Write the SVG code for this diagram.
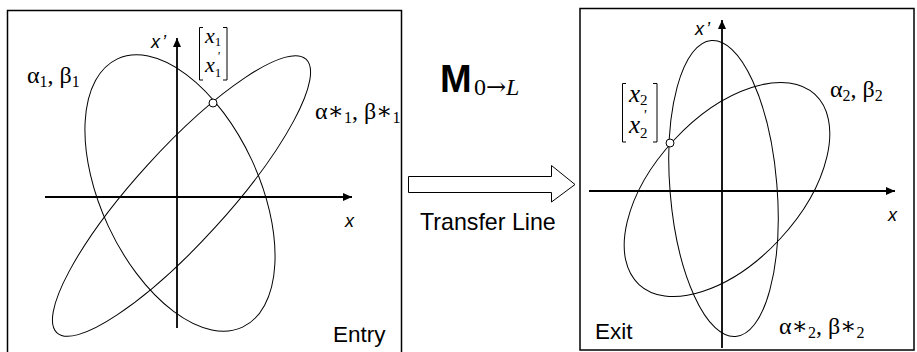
<svg xmlns="http://www.w3.org/2000/svg" width="917" height="352" viewBox="0 0 917 352">
<style>
.frame{fill:none;stroke:#000;stroke-width:1.5}
.ell{fill:none;stroke:#000;stroke-width:1}
.axis{fill:none;stroke:#000;stroke-width:1.8}
.pt{fill:#fff;stroke:#000;stroke-width:1}
.sans{font-family:"Liberation Sans",Arial,sans-serif;fill:#000}
.ax{font-family:"Liberation Sans",Arial,sans-serif;font-style:italic;font-size:18px;fill:#000}
.ser{font-family:"Liberation Serif","DejaVu Serif",serif;font-size:24px;fill:#000}
.sub{font-size:16px}
.mx{font-family:"Liberation Serif","DejaVu Serif",serif;font-style:italic;fill:#000}
.br{fill:none;stroke:#000;stroke-width:1}
</style>
<defs>
<marker id="ah" markerUnits="userSpaceOnUse" markerWidth="10" markerHeight="8" refX="9" refY="4" orient="auto">
<path d="M0,0 L9,4 L0,8 Z" fill="#000"/>
</marker>
</defs>
<g id="entry">
<path class="frame" d="M7.5,353 V10.5 H401.5 V353"/>
<line class="axis" x1="45" y1="197" x2="352" y2="197" marker-end="url(#ah)"/>
<line class="axis" x1="177" y1="328" x2="177" y2="38" marker-end="url(#ah)"/>
<ellipse class="ell" cx="180" cy="193" rx="148" ry="79" transform="rotate(65 180 193)"/>
<ellipse class="ell" cx="181.5" cy="196" rx="185" ry="46" transform="rotate(-47.7 181.5 196)"/>
<circle class="pt" cx="213" cy="103" r="4"/>
<text class="ax" x="151" y="48">x<tspan dx="2">’</tspan></text>
<text class="ax" x="345" y="227">x</text>
<text class="ser" x="27" y="83">α<tspan class="sub" dy="4">1</tspan><tspan dy="-4">, β</tspan><tspan class="sub" dy="4">1</tspan></text>
<text class="ser" x="315" y="119">α∗<tspan class="sub" dy="4">1</tspan><tspan dy="-4">, β∗</tspan><tspan class="sub" dy="4">1</tspan></text>
<path class="br" d="M203,27.5 H199.5 V80 H203 M223,27.5 H227 V80 H223"/>
<text class="mx" x="205" y="43" font-size="22">x<tspan font-size="13" dy="3" font-style="normal">1</tspan></text>
<text class="mx" x="205" y="72" font-size="22">x<tspan font-size="13" dy="5" font-style="normal">1</tspan></text>
<text class="mx" x="217" y="60" font-size="13" font-style="normal">'</text>
<text class="sans" x="333" y="342" font-size="22.5">Entry</text>
</g>
<g id="transfer">
<text class="sans" x="440" y="92" font-size="38" font-weight="bold">M</text>
<text class="ser" x="474" y="95" font-size="25">0<tspan font-family="'DejaVu Serif',serif" font-size="24">→</tspan><tspan font-style="italic">L</tspan></text>
<text class="sans" x="420" y="230" font-size="23.2">Transfer Line</text>
</g>
<g id="exit">
<rect class="frame" x="580" y="8.5" width="334" height="341.5"/>
<line class="axis" x1="589" y1="191" x2="895" y2="191" marker-end="url(#ah)"/>
<line class="axis" x1="722" y1="348" x2="722" y2="20" marker-end="url(#ah)"/>
<ellipse class="ell" cx="723.5" cy="188.5" rx="148.5" ry="53.5" transform="rotate(85.3 723.5 188.5)"/>
<ellipse class="ell" cx="727" cy="189.5" rx="129.5" ry="72.5" transform="rotate(-47.2 727 189.5)"/>
<circle class="pt" cx="670" cy="143" r="4"/>
<text class="ax" x="695" y="35">x<tspan dx="2">’</tspan></text>
<text class="ax" x="888" y="221">x</text>
<text class="ser" x="830" y="97">α<tspan class="sub" dy="4">2</tspan><tspan dy="-4">, β</tspan><tspan class="sub" dy="4">2</tspan></text>
<text class="ser" x="779" y="334">α∗<tspan class="sub" dy="4">2</tspan><tspan dy="-4">, β∗</tspan><tspan class="sub" dy="4">2</tspan></text>
<path class="br" d="M626,83.5 H622.5 V142 H626 M653,83.5 H657 V142 H653"/>
<text class="mx" x="629" y="102" font-size="25">x<tspan font-size="15" dy="3" font-style="normal">2</tspan></text>
<text class="mx" x="629" y="133" font-size="25">x<tspan font-size="15" dy="5" font-style="normal">2</tspan></text>
<text class="mx" x="643" y="120" font-size="15" font-style="normal">'</text>
<text class="sans" x="595" y="339" font-size="22.5">Exit</text>
</g>
<g id="connectors">
<path class="pt" d="M408.5,176.5 H551.5 V165.5 L575,184.5 L551.5,202 V192.5 H408.5 Z"/>
</g>
</svg>
